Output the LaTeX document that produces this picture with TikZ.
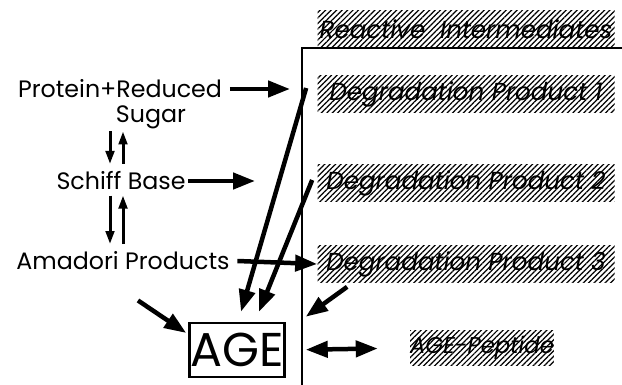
\documentclass[tikz,border=0pt]{standalone}
\usepackage{fontspec}
\setmainfont{Poppins}
\usetikzlibrary{arrows.meta}
\usetikzlibrary{patterns.meta}
\usetikzlibrary{positioning}
\usetikzlibrary{calc}

\begin{document}
\begin{tikzpicture}[
    x = 0.2mm, y = -0.2mm,
    >= {Triangle[length=4.4mm, width=3.2mm]},
    lbl/.style = {
      inner sep = 0pt,
      font = \fontsize{13.5}{15}\selectfont,
    },
    hatch/.style = {
      pattern = {Lines[angle=45, distance=2.2pt, line width=0.7pt]},
      minimum width = 59.4mm, minimum height = 7.4mm,
      inner sep = 0pt,
      font = \fontsize{14}{16}\selectfont\itshape,
    },
    fat/.style = {line width = 0.9mm, ->},
    eq/.style = {
      line width = 0.6mm,
      -{Triangle[length=2.6mm, width=1.7mm]},
    },
  ]
  \useasboundingbox (0,0) rectangle (622,385);

  % left column
  \node[lbl] (prot) at (120,89) {Protein+Reduced};
  \node[lbl] (sugar) at (151,117) {Sugar};
  \node[lbl] (schiff) at (121,181) {Schiff Base};
  \node[lbl] (amad) at (123,261) {Amadori Products};

  \node[draw, line width = 0.5mm,
        minimum width = 19mm, minimum height = 10.8mm,
        inner sep = 0pt, font = \fontsize{27}{30}\selectfont]
    (age) at (237,350) {AGE};

  % right column
  \node[hatch] (react) at (466,29) {Reactive\hspace{0.6em}Intermediates};
  \node[hatch] (dp1) at (466,94) {Degradation Product 1};
  \node[hatch] (dp2) at (466,183) {Degradation Product 2};
  \node[hatch] (dp3) at (466,264) {Degradation Product 3};
  \node[hatch, minimum width = 25mm, minimum height = 7mm,
        font = \fontsize{13}{15}\selectfont\itshape]
    (pept) at (482,348) {AGE-Peptide};

  \draw[line width = 0.4mm] (302,385) |- (622,48);

  % reactions
  \coordinate (p1) at (290,89);
  \coordinate (s1) at (255,181);
  \draw[fat] ([xshift=1.5mm]prot.east) -- (p1);
  \draw[fat] ([xshift=0.5mm]schiff.east) -- (s1);
  \draw[fat] ([xshift=1.5mm]amad.east) -- (dp3.west);

  \draw[eq, shorten > = 1.5mm, shorten < = 0.5mm]
    ([xshift=-2.2mm]schiff.north |- sugar.south) -- ([xshift=-2.2mm]schiff.north);
  \draw[eq, shorten > = 0.5mm, shorten < = 1.5mm]
    ([xshift=0.4mm]schiff.north) -- ([xshift=0.4mm]schiff.north |- sugar.south);
  \draw[eq, shorten > = 1.5mm, shorten < = 1mm]
    ([xshift=-2.2mm]schiff.south) -- ([xshift=-2.2mm]schiff.south |- amad.north);
  \draw[eq, shorten > = 1mm, shorten < = 1.5mm]
    ([xshift=0.4mm]schiff.south |- amad.north) -- ([xshift=0.4mm]schiff.south);

  \draw[fat] ($(dp1.west)+(-11,-6)$) -- ($(age.north)+(4,-10)$);
  \draw[fat] ($(dp2.west)+(-5,-3)$) -- ($(age.north)+(22,-10)$);
  \draw[fat] ($(dp3.south west)+(30,4)$) -- ($(age.north east)+(20,-5)$);
  \draw[fat] ($(amad.south)+(15,30)$) -- ($(age.west)+(-2,-17)$);
  \draw[fat, <->, shorten < = 4mm, shorten > = 6.4mm] (age.east) -- (pept.west);
\end{tikzpicture}
\end{document}
